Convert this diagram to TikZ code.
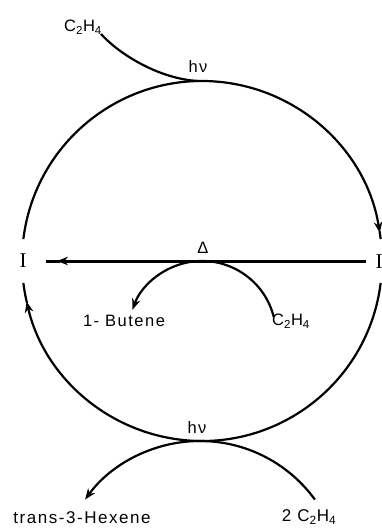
\documentclass[tikz,border=0pt]{standalone}
\usepackage{fontspec}
\setmainfont{Liberation Sans}[LetterSpace=9]
\newfontfamily\romanI{Liberation Serif}
\usetikzlibrary{arrows.meta}
\begin{document}
\begin{tikzpicture}[x=1pt,y=-1pt,
  lab/.style={inner sep=0pt, font=\fontsize{16.5}{19}\selectfont},
  biglab/.style={inner sep=0pt, font=\fontsize{17}{20}\selectfont},
  inter/.style={inner sep=0pt, font=\romanI\fontsize{21}{21}\selectfont},
  ring/.style={line width=2.2pt},
  thick line/.style={line width=3pt},
  tip/.style={-{Stealth[length=11pt,width=8.5pt]}},
]
\useasboundingbox (0,0) rectangle (382,529);
\coordinate (O) at (202,261);
% labels
\node[lab] (topC) at (83,27) {C\textsubscript{2}H\textsubscript{4}};
\node[lab] (hv1) at (198,67) {hν};
\node[lab] (delta) at (203,248) {Δ};
\node[inter] (IL) at (23,261) {I};
\node[inter] (IR) at (379,262) {I};
\node[lab] (butene) at (124,321) {1- Butene};
\node[lab] (midC) at (291,321) {C\textsubscript{2}H\textsubscript{4}};
\node[lab] (hv2) at (197,428) {hν};
\node[biglab] (hexene) at (82,518) {trans-3-Hexene};
\node[biglab] (twoC) at (309,517) {2 C\textsubscript{2}H\textsubscript{4}};
% end points
\coordinate (topStart) at (101,34);
\coordinate (topJoin) at (198,81);
\coordinate (lineR) at (366,261);
\coordinate (lineTip) at (57,261);
\coordinate (lineL) at (46,261);
\coordinate (midStart) at ([shift={(-14:74)}]202,335);
\coordinate (botStart) at ([shift={(-36:142)}]200,583);
% main ring
\draw[ring, tip] ([shift={(-173:180)}]O) arc[start angle=-173, end angle=-9, radius=180];
\draw[ring] ([shift={(-9.5:180)}]O) arc[start angle=-9.5, end angle=-7, radius=180];
\draw[ring, tip] ([shift={(7:180)}]O) arc[start angle=7, end angle=167, radius=180];
\draw[ring] ([shift={(166.5:180)}]O) arc[start angle=166.5, end angle=173, radius=180];
% top entry
\draw[ring] (topStart) .. controls (120,55) and (160,79) .. (topJoin);
% horizontal
\draw[thick line, tip] (lineR) -- (lineTip);
\draw[thick line] ([xshift=3pt]lineTip) -- (lineL);
% middle arc
\draw[ring, tip] (midStart) arc[start angle=-14, end angle=-160, radius=74];
% bottom arc
\draw[ring, tip] (botStart) arc[start angle=-36, end angle=-144, radius=142];
\end{tikzpicture}
\end{document}
